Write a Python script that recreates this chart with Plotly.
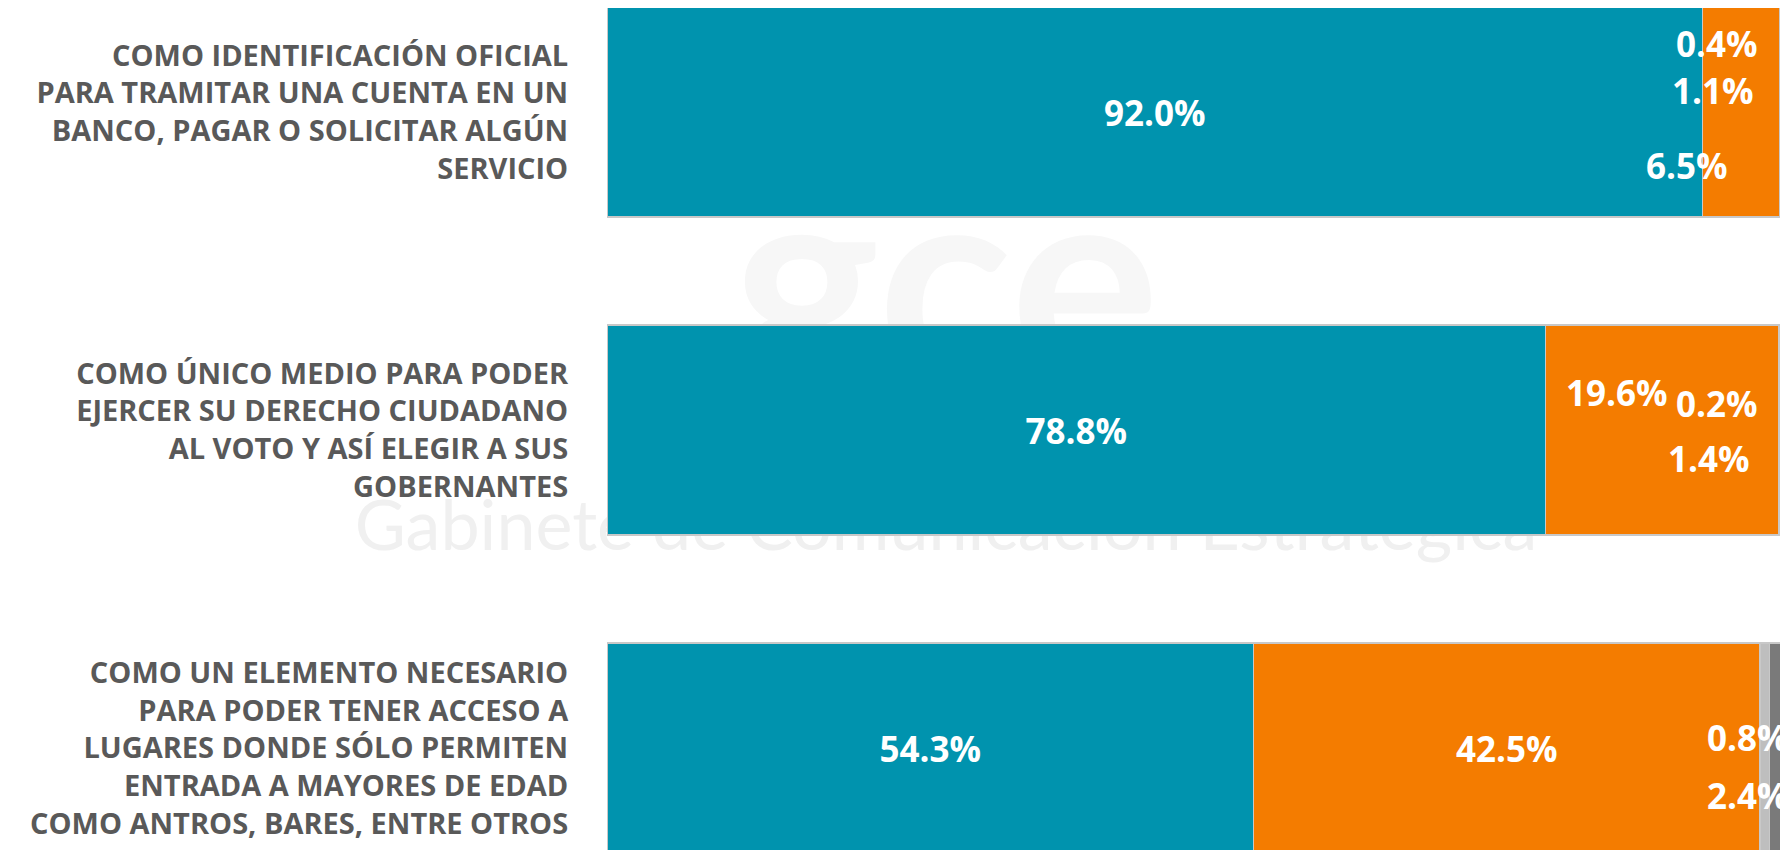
import plotly.graph_objects as go

categories = [
    "COMO IDENTIFICACIÓN OFICIAL<br>PARA TRAMITAR UNA CUENTA EN UN<br>BANCO, PAGAR O SOLICITAR ALGÚN<br>SERVICIO",
    "COMO ÚNICO MEDIO PARA PODER<br>EJERCER SU DERECHO CIUDADANO<br>AL VOTO Y ASÍ ELEGIR A SUS<br>GOBERNANTES",
    "COMO UN ELEMENTO NECESARIO<br>PARA PODER TENER ACCESO A<br>LUGARES DONDE SÓLO PERMITEN<br>ENTRADA A MAYORES DE EDAD<br>COMO ANTROS, BARES, ENTRE OTROS",
]
serie_1 = [92.0, 78.8, 54.3]
serie_2 = [6.5, 19.6, 42.5]
serie_3 = [0.4, 0.2, 0.8]
serie_4 = [1.1, 1.4, 2.4]

colors = ["#0093AE", "#F47C00", "#BEBEBE", "#7A7A7A"]
series = [serie_1, serie_2, serie_3, serie_4]

# label offsets (px, from segment start) for the small segments, Excel style
label_offsets = {
    (1, 0): (-16, -53), (2, 0): (-63, 69), (3, 0): (-72, 22),
    (1, 1): (71, 38), (2, 1): (-62, 27), (3, 1): (-72, -28),
    (2, 2): (-12, 11), (3, 2): (-21, -47),
}
label_font = dict(family="Open Sans", size=35, color="white", weight="bold")

fig = go.Figure()
for s, (vals, col) in enumerate(zip(series, colors)):
    txt = []
    for i, v in enumerate(vals):
        txt.append("" if (s, i) in label_offsets else f"{v:.1f}%")
    fig.add_trace(go.Bar(
        y=categories, x=vals, orientation="h", marker_color=col,
        marker_line=dict(color="#C8C8C8", width=1.5),
        text=txt, textposition="inside", insidetextanchor="middle",
        textangle=0, constraintext="none",
        textfont=label_font,
        width=0.66, showlegend=False,
    ))

for (s, i), (dx, dy) in label_offsets.items():
    start = sum(series[k][i] for k in range(s))
    fig.add_annotation(
        x=start, y=categories[i], xref="x", yref="y",
        text=f"{series[s][i]:.1f}%", showarrow=False,
        xshift=dx, yshift=dy, font=label_font,
    )

# faint watermark behind the bars
fig.add_shape(type="rect", xref="paper", yref="paper", x0=-0.213, x1=0.787,
              y0=0.34, y1=0.44, line=dict(width=0), fillcolor="rgba(0,0,0,0)",
              layer="below",
              label=dict(text="Gabinete de Comunicación Estratégica",
                         font=dict(family="Lato", size=70, color="#F0F0F0")))
fig.add_shape(type="rect", xref="paper", yref="paper", x0=-0.213, x1=0.787,
              y0=0.59, y1=0.79, line=dict(width=0), fillcolor="rgba(0,0,0,0)",
              layer="below",
              label=dict(text="<b>gce</b>",
                         font=dict(family="Lato", size=280, color="#F7F7F7")))

# the page body adds an 8px margin, so the figure is 8px smaller
fig.update_layout(
    barmode="stack",
    width=1780, height=842,
    margin=dict(l=599, r=0, t=0, b=0, autoexpand=False),
    paper_bgcolor="white", plot_bgcolor="rgba(0,0,0,0)",
)
fig.update_xaxes(range=[0, 99.16], visible=False)
fig.update_yaxes(
    range=[2.32, -0.327], showgrid=False, zeroline=False, showline=False,
    automargin=False,
    ticks="outside", ticklen=32, tickcolor="rgba(0,0,0,0)",
    tickfont=dict(family="Open Sans", size=29, color="#595959", weight="bold"),
)

fig.write_html("out.html")
